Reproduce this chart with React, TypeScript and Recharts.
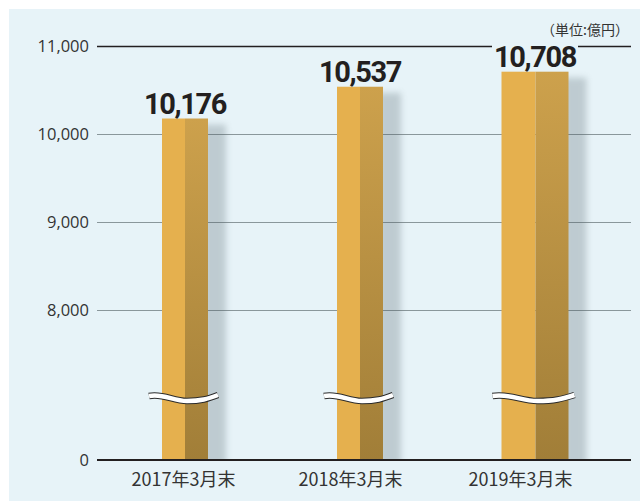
import React from 'react';
import { BarChart, Bar, XAxis, YAxis, CartesianGrid, LabelList } from 'recharts';

const categories = ['2017年3月末', '2018年3月末', '2019年3月末'];
const values = [10176, 10537, 10708];
const yTickValues = [8000, 9000, 10000, 11000];
const unitLabel = '（単位:億円）';
// value at which the "0" baseline sits after the axis break
const BREAK_BASE = 6295;
const Y_MAX = 11000;

const data = categories.map((c, i) => ({ name: c, value: values[i] }));

// style-only constants
const BAR_WIDTHS = [46, 46, 67];
const TICK_DX = [-1, -9, -14];
const BG = '#e7f3f8';

const BarShape = (props: any) => {
  const { x, y, width, height, index } = props;
  const cx = x + width / 2;
  const w = BAR_WIDTHS[index] ?? width;
  const left = cx - w / 2;
  const right = left + w;
  const bottom = y + height;
  const half = Math.round(w / 2);
  const yc = bottom - 62;
  const x0 = left - (index === 2 ? 9 : 13);
  const L = right + (index === 2 ? 6 : 10) - x0;
  const d = `M${x0},${yc - 2} C${x0 + L * 0.2},${yc - 5} ${x0 + L * 0.35},${yc + 3} ${x0 + L * 0.55},${yc + 3} S${x0 + L * 0.85},${yc + 1} ${x0 + L},${yc - 3}`;
  return (
    <g>
      <defs>
        <linearGradient id={`darkGrad${index}`} x1="0" y1="0" x2="0" y2="1">
          <stop offset="0%" stopColor="#cda14c" />
          <stop offset="100%" stopColor="#a17e38" />
        </linearGradient>
        <filter id={`shBlur${index}`} x="-50%" y="-10%" width="200%" height="120%">
          <feGaussianBlur stdDeviation="3" />
        </filter>
      </defs>
      <rect x={right - 6} y={y + 6} width={24} height={height + 2} fill="rgb(75,91,100)" opacity={0.26} filter={`url(#shBlur${index})`} />
      <rect x={left} y={y} width={half} height={height} fill="#e5b04e" />
      <rect x={left + half} y={y} width={w - half} height={height} fill={`url(#darkGrad${index})`} />
      <path d={d} fill="none" stroke="#2b2b2b" strokeWidth={6.5} />
      <path d={d} fill="none" stroke="#ffffff" strokeWidth={4.5} />
    </g>
  );
};

const ValueLabel = (props: any) => {
  const { x, y, width, value } = props;
  const cx = x + width / 2;
  const base = y - 5;
  return (
    <g>
      <rect x={cx - 43} y={base - 24} width={86} height={10} fill={BG} />
      <text x={cx} y={base} textAnchor="middle" fontFamily="Roboto" fontWeight={700} fontSize={29} letterSpacing={-1.4} fill="#231f20">
        {Number(value).toLocaleString('en-US')}
      </text>
    </g>
  );
};

const XTick = (props: any) => {
  const { x, y, payload, index } = props;
  return (
    <text x={x + (TICK_DX[index] ?? 0)} y={y + 26} textAnchor="middle" fontFamily="'Noto Sans CJK JP'" fontSize={18} fill="#333">
      {payload.value}
    </text>
  );
};

const gridLine = (p: any) => {
  if (p.y1 > 455) return <g key={p.key} />;
  const dark = p.y1 < 50;
  const yy = Math.round(p.y1) + 0.5;
  return (
    <line key={p.key} x1={p.x1} x2={p.x2} y1={yy} y2={yy} stroke={dark ? '#231f20' : '#8a979b'} strokeWidth={dark ? 1.3 : 1.2} />
  );
};

export default function App() {
  return (
    <div style={{ position: 'absolute', left: 0, top: 0, width: 640, height: 501, background: '#fff', overflow: 'hidden' }}>
      <div style={{ position: 'absolute', left: 9, top: 9, right: 0, bottom: 0, background: BG }} />
      <div style={{ position: 'absolute', right: 11, top: 22, fontFamily: "'Noto Sans CJK JP'", fontSize: 14, lineHeight: '14px', color: '#333' }}>
        {unitLabel}
      </div>
      <div style={{ position: 'absolute', left: 0, top: 0 }}>
        <BarChart width={640} height={501} data={data} margin={{ top: 46, right: 9, bottom: 0, left: 0 }} barCategoryGap={0}>
          <CartesianGrid vertical={false} horizontal={gridLine} />
          <XAxis
            dataKey="name"
            height={41}
            padding={{ left: 0, right: 9 }}
            tickSize={0}
            tickMargin={0}
            tickLine={false}
            axisLine={{ stroke: '#231f20', strokeWidth: 2.2 }}
            tick={<XTick />}
            interval={0}
          />
          <YAxis
            width={97}
            type="number"
            domain={[BREAK_BASE, Y_MAX]}
            ticks={[BREAK_BASE, ...yTickValues]}
            allowDataOverflow
            axisLine={false}
            tickLine={false}
            tickSize={0}
            tickMargin={8}
            tickFormatter={(v: number) => (v === BREAK_BASE ? '0' : v.toLocaleString('en-US'))}
            tick={{ fontFamily: "'Open Sans'", fontSize: 16.5, fill: '#333' }}
          />
          <Bar dataKey="value" barSize={46} shape={<BarShape />} isAnimationActive={false}>
            <LabelList dataKey="value" content={<ValueLabel />} />
          </Bar>
        </BarChart>
      </div>
    </div>
  );
}
